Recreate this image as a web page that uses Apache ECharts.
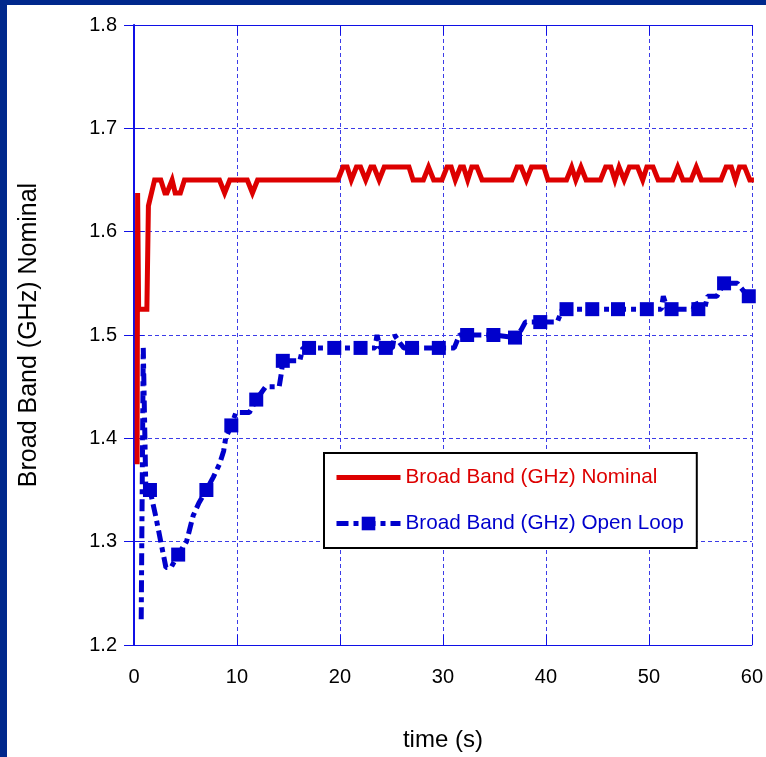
<!DOCTYPE html>
<html>
<head>
<meta charset="utf-8">
<title>Broad Band (GHz)</title>
<script src="https://cdn.jsdelivr.net/npm/echarts@6/dist/echarts.min.js"></script>
<style>
  html, body { margin: 0; padding: 0; background: #ffffff; }
  #chart { width: 766px; height: 757px; }
</style>
</head>
<body>
<div id="chart"></div>
<script>
// Axis ticks
var timeTicks = [0, 10, 20, 30, 40, 50, 60];
var bandTicks = [1.2, 1.3, 1.4, 1.5, 1.6, 1.7, 1.8];

// Broad Band (GHz) Nominal: time (s) and value at each change
var nominalTime = [
  0.3, 0.35, 0.45, 1.25, 1.4, 2.0, 2.6, 3.0, 3.2, 3.7, 4.0, 4.5, 4.9,
  8.3, 8.8, 9.3, 11.0, 11.5, 12.0, 19.8, 20.3, 20.7, 21.1, 21.6, 22.0,
  22.5, 23.0, 23.3, 23.8, 24.3, 26.7, 27.1, 28.1, 28.6, 29.1, 29.9, 30.4,
  30.8, 31.2, 31.7, 32.0, 32.4, 32.8, 33.3, 33.8, 36.7, 37.2, 37.6, 38.1,
  38.6, 39.8, 40.2, 42.0, 42.5, 42.9, 43.4, 43.9, 45.3, 45.8, 46.3, 46.7,
  47.1, 47.6, 48.1, 48.9, 49.4, 49.8, 50.4, 50.9, 52.3, 52.8, 53.3, 54.1,
  54.6, 55.1, 57.0, 57.5, 58.0, 58.4, 58.8, 59.3, 59.8, 60.2
];
var nominalBand = [
  1.375, 1.6375, 1.525, 1.525, 1.625, 1.65, 1.65, 1.6375, 1.6375, 1.65, 1.6375, 1.6375, 1.65,
  1.65, 1.6375, 1.65, 1.65, 1.6375, 1.65, 1.65, 1.6625, 1.6625, 1.65, 1.6625, 1.6625,
  1.65, 1.6625, 1.6625, 1.65, 1.6625, 1.6625, 1.65, 1.65, 1.6625, 1.65, 1.65, 1.6625,
  1.6625, 1.65, 1.6625, 1.6625, 1.65, 1.6625, 1.6625, 1.65, 1.65, 1.6625, 1.6625, 1.65,
  1.6625, 1.6625, 1.65, 1.65, 1.6625, 1.65, 1.6625, 1.65, 1.65, 1.6625, 1.6625, 1.65,
  1.6625, 1.65, 1.6625, 1.6625, 1.65, 1.6625, 1.6625, 1.65, 1.65, 1.6625, 1.65, 1.65,
  1.6625, 1.65, 1.65, 1.6625, 1.6625, 1.65, 1.6625, 1.6625, 1.65, 1.65
];

// Broad Band (GHz) Open Loop: time (s) and value
var openLoopTime = [
  0.7, 0.9, 1.15, 1.55, 2.1, 2.6, 3.1, 3.6, 4.29, 5.1, 5.74, 6.3, 7.03,
  7.7, 8.3, 8.7, 8.9, 9.45, 9.9, 11.2, 11.87, 12.8, 14.1, 14.3, 14.45,
  16.1, 16.4, 17.0, 19.45, 22.0, 23.4, 23.6, 23.9, 24.45, 25.1, 25.3, 25.8,
  26.2, 27.0, 29.6, 31.1, 31.6, 32.35, 34.9, 37.0, 37.6, 38.0, 39.45, 41.1,
  41.6, 42.0, 44.5, 47.0, 49.8, 51.2, 51.4, 51.8, 52.2, 54.3, 54.5, 54.8,
  55.4, 55.7, 56.6, 57.3, 58.6, 59.2, 59.7
];
var openLoopBand = [
  1.225, 1.4875, 1.35, 1.35, 1.325, 1.3, 1.275, 1.275, 1.2875, 1.3, 1.325, 1.3375, 1.35,
  1.3625, 1.375, 1.3875, 1.4, 1.4125, 1.425, 1.425, 1.4375, 1.45, 1.45, 1.4625, 1.475,
  1.475, 1.4875, 1.4875, 1.4875, 1.4875, 1.4875, 1.5, 1.4875, 1.4875, 1.4875, 1.5, 1.4925,
  1.4875, 1.4875, 1.4875, 1.4875, 1.5, 1.5, 1.5, 1.4975, 1.505, 1.5125, 1.5125, 1.5125,
  1.525, 1.525, 1.525, 1.525, 1.525, 1.525, 1.5375, 1.525, 1.525, 1.525, 1.5325, 1.525,
  1.525, 1.5375, 1.5375, 1.55, 1.55, 1.5425, 1.5375
];
// Samples of the open-loop run that carry a square marker
var openLoopMarkedTimes = [
  1.55, 4.29, 7.03, 9.45, 11.87, 14.45, 17.0, 19.45, 22.0, 24.45, 27.0, 29.6,
  32.35, 34.9, 37.0, 39.45, 42.0, 44.5, 47.0, 49.8, 52.2, 54.8, 57.3, 59.7
];

var NOMINAL = 'Broad Band (GHz) Nominal';
var OPEN_LOOP = 'Broad Band (GHz) Open Loop';
var RED = '#dd0000';
var BLUE = '#0000cc';
var AXIS_BLUE = '#1010e6';
var GRID_BLUE = '#3c3ce8';
var FONT = '"Liberation Sans", Arial, Helvetica, sans-serif';
var OPEN_LOOP_DASH = [12, 5, 5, 5];

function pairs(xs, ys) {
  return xs.map(function (x, i) { return [x, ys[i]]; });
}

var markedSet = {};
openLoopMarkedTimes.forEach(function (t) { markedSet[t] = true; });

var chart = echarts.init(document.getElementById('chart'), null, { renderer: 'canvas' });

var splitStyle = { show: true, lineStyle: { color: GRID_BLUE, width: 1, type: [4, 3] } };

chart.setOption({
  animation: false,
  backgroundColor: '#ffffff',
  textStyle: { fontFamily: FONT },
  graphic: [
    { type: 'rect', left: 0, top: 0, shape: { width: 7, height: 757 }, style: { fill: '#00288c' }, z: 100 },
    { type: 'rect', left: 0, top: 0, shape: { width: 766, height: 5 }, style: { fill: '#00288c' }, z: 100 }
  ],
  grid: { left: 134, top: 25, right: 12, bottom: 112, containLabel: false },
  legend: {
    orient: 'vertical',
    left: 324,
    top: 453,
    data: [
      {
        name: NOMINAL,
        textStyle: { color: RED },
        itemStyle: { opacity: 0 },
        lineStyle: { color: RED, width: 5, type: 'solid' }
      },
      {
        name: OPEN_LOOP,
        textStyle: { color: BLUE },
        itemStyle: { color: BLUE },
        lineStyle: { color: BLUE, width: 5, type: OPEN_LOOP_DASH }
      }
    ],
    itemWidth: 64,
    itemHeight: 17,
    itemGap: 25,
    padding: [14, 13, 14, 10],
    borderColor: '#000000',
    borderWidth: 2,
    borderRadius: 0,
    backgroundColor: '#ffffff',
    textStyle: { fontSize: 20.7, fontFamily: FONT },
    selectedMode: false
  },
  xAxis: [
    {
      type: 'value',
      position: 'bottom',
      min: timeTicks[0],
      max: timeTicks[timeTicks.length - 1],
      interval: timeTicks[1] - timeTicks[0],
      name: 'time (s)',
      nameLocation: 'middle',
      nameGap: 83,
      nameTextStyle: { fontSize: 24, color: '#000000', fontFamily: FONT },
      axisLine: { show: true, lineStyle: { color: AXIS_BLUE, width: 1 } },
      axisTick: { show: true, inside: true, length: 10, lineStyle: { color: AXIS_BLUE, width: 1 } },
      axisLabel: { fontSize: 20, color: '#000000', margin: 22, fontFamily: FONT },
      splitLine: splitStyle
    },
    {
      type: 'value',
      position: 'top',
      min: timeTicks[0],
      max: timeTicks[timeTicks.length - 1],
      interval: timeTicks[1] - timeTicks[0],
      axisLine: { show: true, lineStyle: { color: AXIS_BLUE, width: 1 } },
      axisTick: { show: true, inside: true, length: 10, lineStyle: { color: AXIS_BLUE, width: 1 } },
      axisLabel: { show: false },
      splitLine: { show: false }
    }
  ],
  yAxis: [
    {
      type: 'value',
      position: 'left',
      min: bandTicks[0],
      max: bandTicks[bandTicks.length - 1],
      interval: 0.1,
      name: NOMINAL,
      nameLocation: 'middle',
      nameGap: 92,
      nameRotate: 90,
      nameTextStyle: { fontSize: 25, color: '#000000', fontFamily: FONT },
      axisLine: { show: true, lineStyle: { color: AXIS_BLUE, width: 1 } },
      axisTick: { show: true, inside: true, length: 10, lineStyle: { color: AXIS_BLUE, width: 1 } },
      axisLabel: {
        fontSize: 20, color: '#000000', margin: 17, fontFamily: FONT,
        formatter: function (v) { return v.toFixed(1); }
      },
      splitLine: splitStyle
    },
    {
      type: 'value',
      position: 'right',
      min: bandTicks[0],
      max: bandTicks[bandTicks.length - 1],
      interval: 0.1,
      axisLine: { show: true, lineStyle: { color: AXIS_BLUE, width: 2 } },
      axisTick: { show: true, inside: true, length: 10, lineStyle: { color: AXIS_BLUE, width: 1 } },
      axisLabel: { show: false },
      splitLine: { show: false }
    }
  ],
  series: [
    {
      name: OPEN_LOOP,
      type: 'line',
      xAxisIndex: 0,
      yAxisIndex: 0,
      data: pairs(openLoopTime, openLoopBand),
      clip: false,
      symbol: 'rect',
      showAllSymbol: true,
      symbolSize: function (val) { return markedSet[val[0]] ? 14 : 0; },
      itemStyle: { color: BLUE },
      lineStyle: { color: BLUE, width: 5, type: OPEN_LOOP_DASH, cap: 'butt' },
      z: 2
    },
    {
      name: NOMINAL,
      type: 'line',
      xAxisIndex: 0,
      yAxisIndex: 0,
      data: pairs(nominalTime, nominalBand),
      clip: false,
      symbol: 'none',
      itemStyle: { color: RED },
      lineStyle: { color: RED, width: 5, join: 'miter' },
      z: 3
    }
  ]
});
</script>
</body>
</html>
